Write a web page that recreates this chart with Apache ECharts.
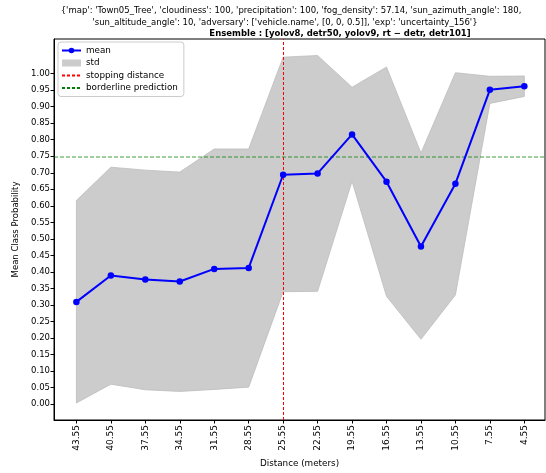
<!DOCTYPE html>
<html>
<head>
<meta charset="utf-8">
<script src="https://cdn.jsdelivr.net/npm/echarts@6/dist/echarts.min.js"></script>
<style>
  html, body { margin: 0; padding: 0; background: #fff; }
  #main { width: 546px; height: 473px; }
</style>
</head>
<body>
<div id="main"></div>
<script>
// distances along the x axis (category labels)
var distances = ['43.55', '40.55', '37.55', '34.55', '31.55', '28.55', '25.55',
                 '22.55', '19.55', '16.55', '13.55', '10.55', '7.55', '4.55'];
// mean class probability
var meanVals = [0.309, 0.389, 0.377, 0.371, 0.409, 0.412, 0.694,
                0.698, 0.816, 0.673, 0.477, 0.667, 0.951, 0.962];
// mean + std / mean - std
var upperVals = [0.616, 0.717, 0.708, 0.702, 0.772, 0.772, 1.050,
                 1.055, 0.959, 1.020, 0.760, 1.003, 0.992, 0.993];
var lowerVals = [0.003, 0.060, 0.043, 0.038, 0.044, 0.051, 0.340,
                 0.341, 0.674, 0.326, 0.196, 0.330, 0.910, 0.931];
var yTicks = [0, 0.05, 0.10, 0.15, 0.20, 0.25, 0.30, 0.35, 0.40, 0.45, 0.50,
              0.55, 0.60, 0.65, 0.70, 0.75, 0.80, 0.85, 0.90, 0.95, 1.00];
var stopIndex = 6;        // 25.55 m
var borderline = 0.75;

var titleLine1 = "{'map': 'Town05_Tree', 'cloudiness': 100, 'precipitation': 100, 'fog_density': 57.14, 'sun_azimuth_angle': 180,";
var titleLine2 = "'sun_altitude_angle': 10, 'adversary': ['vehicle.name', [0, 0, 0.5]], 'exp': 'uncertainty_156'}";
var titleLine3 = "Ensemble : [yolov8, detr50, yolov9, rt \u2212 detr, detr101]";

var FONT = 'DejaVu Sans';
var chart = echarts.init(document.getElementById('main'), null, {renderer: 'canvas'});

var xIdx = distances.map(function (d, i) { return i; });
var meanData = meanVals.map(function (v, i) { return [i, v]; });
var hideSymbol = { color: 'rgba(0,0,0,0)', borderWidth: 0 };

var option = {
    animation: false,
    backgroundColor: '#fff',
    textStyle: { fontFamily: FONT },
    title: [
        { text: titleLine1, left: 286, top: 1, textAlign: 'center',
          textStyle: { fontFamily: FONT, fontSize: 8.5, fontWeight: 'normal', color: '#000' } },
        { text: titleLine2, left: 280, top: 13, textAlign: 'center',
          textStyle: { fontFamily: FONT, fontSize: 8.5, fontWeight: 'normal', color: '#000' } },
        { text: titleLine3, left: 335, top: 24, textAlign: 'center',
          textStyle: { fontFamily: FONT, fontSize: 8.5, fontWeight: 'bold', color: '#000' } }
    ],
    legend: {
        orient: 'vertical',
        left: 58, top: 42,
        padding: [4, 6, 4, 3],
        itemWidth: 19, itemHeight: 7, itemGap: 3.5,
        borderColor: '#cccccc', borderWidth: 1, borderRadius: 3,
        backgroundColor: 'rgba(255,255,255,0.8)',
        textStyle: { fontFamily: FONT, fontSize: 8.8, color: '#000' },
        data: [
            { name: 'mean' },
            { name: 'std', icon: 'rect' },
            { name: 'stopping distance', itemStyle: hideSymbol },
            { name: 'borderline prediction', itemStyle: hideSymbol }
        ]
    },
    grid: { left: 54, right: 1, top: 39, bottom: 46, show: true, borderColor: '#000', borderWidth: 1 },
    xAxis: {
        type: 'value', min: -0.65, max: 13.6,
        name: 'Distance (meters)', nameLocation: 'middle', nameGap: 39,
        nameTextStyle: { fontFamily: FONT, fontSize: 8.8, color: '#000' },
        axisLine: { onZero: false, lineStyle: { color: '#000' } },
        axisTick: { customValues: xIdx, length: 3.5, lineStyle: { color: '#000' } },
        axisLabel: {
            customValues: xIdx, rotate: 90, margin: 5,
            fontFamily: FONT, fontSize: 9, color: '#000',
            formatter: function (v) { return distances[Math.round(v)]; }
        },
        splitLine: { show: false }
    },
    yAxis: {
        type: 'value', min: -0.0485, max: 1.105,
        name: 'Mean Class Probability', nameLocation: 'middle', nameGap: 31,
        nameTextStyle: { fontFamily: FONT, fontSize: 8.5, color: '#000' },
        axisLine: { show: true, onZero: false, lineStyle: { color: '#000' } },
        axisTick: { show: true, customValues: yTicks, length: 3.5, lineStyle: { color: '#000' } },
        axisLabel: {
            customValues: yTicks, margin: 4,
            fontFamily: FONT, fontSize: 8.5, color: '#000',
            formatter: function (v) { return v.toFixed(2); }
        },
        splitLine: { show: false }
    },
    series: [
        {
            name: 'std',
            type: 'custom',
            z: 1,
            itemStyle: { color: '#cccccc' },
            data: [[0, 0]],
            renderItem: function (params, api) {
                var pts = [];
                for (var i = 0; i < upperVals.length; i++) pts.push(api.coord([i, upperVals[i]]));
                for (var j = lowerVals.length - 1; j >= 0; j--) pts.push(api.coord([j, lowerVals[j]]));
                return {
                    type: 'polygon',
                    shape: { points: pts },
                    style: { fill: '#cccccc', stroke: '#bdbdbd', lineWidth: 0.8 }
                };
            }
        },
        {
            name: 'stopping distance',
            type: 'line',
            data: [],
            symbol: 'none',
            z: 3,
            itemStyle: { color: 'red' },
            lineStyle: { color: 'red', width: 1, type: [3, 2] },
            markLine: {
                silent: true, symbol: 'none', label: { show: false },
                lineStyle: { color: 'red', width: 1, type: [3, 2] },
                data: [{ xAxis: stopIndex }]
            }
        },
        {
            name: 'borderline prediction',
            type: 'line',
            data: [],
            symbol: 'none',
            z: 3,
            itemStyle: { color: 'rgb(0,128,0)' },
            lineStyle: { color: 'rgb(0,128,0)', width: 1, type: [3, 2] },
            markLine: {
                silent: true, symbol: 'none', label: { show: false },
                lineStyle: { color: 'rgba(0,128,0,0.5)', width: 1.5, type: [4, 2] },
                data: [{ yAxis: borderline }]
            }
        },
        {
            name: 'mean',
            type: 'line',
            z: 5,
            data: meanData,
            symbol: 'circle',
            symbolSize: 6.5,
            itemStyle: { color: '#0000ff' },
            lineStyle: { color: '#0000ff', width: 2 }
        }
    ]
};
chart.setOption(option);
</script>
</body>
</html>
